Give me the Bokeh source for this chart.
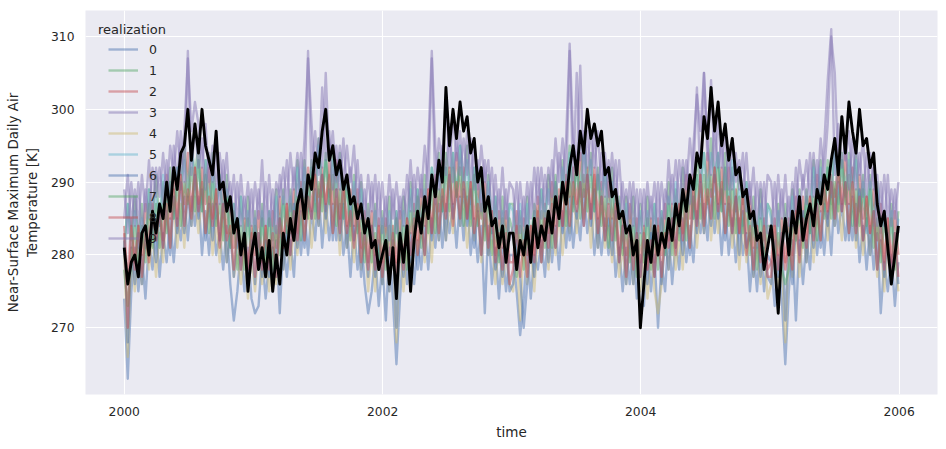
import pandas as pd
from bokeh.plotting import figure
from bokeh.models import Range1d, FixedTicker, DatetimeTickFormatter, Legend, LegendItem, Label
from bokeh.embed import file_html
from bokeh.resources import INLINE

# ---------------- data (10-day samples) ----------------
times = pd.date_range("2000-01-01", periods=220, freq="10D")

r9 = [289,283,290,284,290,283,289,285,292,288,292,287,293,287,295,290,297,290,308,291,298,292,296,289,294,290,295,287,293,288,290,284,290,284,288,284,289,
      283,289,284,290,284,289,283,291,287,293,286,292,288,294,288,308,291,297,291,303,293,297,289,295,289,296,289,292,287,293,285,289,284,290,284,290,283,
      288,282,289,283,288,284,291,286,291,286,291,286,295,308,295,289,295,291,298,290,296,291,296,291,296,289,293,286,293,287,292,285,289,284,289,282,
      284,290,283,288,283,290,285,292,285,291,287,293,287,294,290,296,309,296,292,306,290,297,291,297,289,294,288,293,288,293,285,290,283,290,284,289,283,
      289,284,288,283,290,283,289,287,291,286,293,288,293,287,295,302,297,305,295,291,298,292,296,289,294,289,294,289,294,286,290,284,290,285,290,283,
      283,290,284,289,284,288,284,292,285,291,287,294,288,293,288,295,304,311,291,298,292,296,289,296,289,294,288,294,289,292,284,290,284,291,284,289,283]
r1 = [281,287,282,288,282,287,281,289,285,291,284,290,286,292,286,292,289,295,289,295,291,295,287,293,287,294,287,290,285,291,283,287,282,288,282,288,281,
      286,280,287,281,286,282,289,284,289,284,289,284,293,287,293,287,293,289,296,288,294,289,294,289,294,287,291,284,291,285,290,283,287,282,287,280,286,
      282,288,281,286,281,288,283,290,283,289,285,291,285,292,288,294,288,294,290,294,288,295,289,295,287,292,286,291,286,291,283,288,281,288,282,287,
      287,282,286,281,288,281,287,285,289,284,291,286,291,285,293,288,295,288,293,289,296,290,294,287,292,287,292,287,292,284,288,282,288,283,288,281,287,
      281,288,282,287,282,286,282,290,283,289,285,292,286,291,286,293,290,294,289,296,290,294,287,294,287,292,286,292,287,290,282,288,282,289,282,287,
      286,280,287,281,287,282,289,284,289,283,289,285,293,287,293,287,293,287,296,290,294,289,294,289,294,286,291,285,291,285,290,283,286,282,287,280,286]
r2 = [284,276,285,279,284,280,287,282,287,282,287,282,291,285,291,285,291,287,294,286,292,287,292,287,292,285,289,282,289,283,288,281,285,280,285,278,284,
      280,286,279,284,279,286,281,288,281,287,283,289,283,290,286,292,286,292,288,292,286,293,287,293,285,290,284,289,284,289,281,286,279,286,280,285,279,
      285,280,284,279,286,279,285,283,287,282,289,284,289,283,291,286,293,286,291,287,294,288,292,285,290,285,290,285,290,282,286,280,286,281,286,279,
      279,286,280,285,280,284,280,288,281,287,283,290,284,289,284,291,288,292,287,294,288,292,285,292,285,290,284,290,285,288,280,286,280,287,280,285,279,
      284,278,285,279,285,280,287,282,287,281,287,283,291,285,291,285,291,285,294,288,292,287,292,287,292,284,289,283,289,283,288,281,284,280,285,278,
      279,285,280,285,279,285,280,288,282,288,282,288,284,291,286,291,285,291,288,293,287,294,287,292,284,291,285,288,283,289,282,287,279,285,279,286,280]
r3 = [285,291,284,289,284,291,286,293,286,292,288,294,288,295,291,297,291,297,307,297,301,298,292,298,290,295,289,294,289,294,286,291,284,291,285,290,284,
      290,285,293,284,291,284,290,288,292,287,294,289,294,288,296,307,298,291,296,292,305,293,297,290,295,290,295,290,295,287,291,285,291,286,291,284,290,
      284,291,285,290,285,289,285,293,286,292,288,295,289,307,289,296,293,302,292,299,293,297,290,297,290,295,289,295,290,293,285,291,285,292,285,290,
      289,283,290,284,290,285,292,287,292,286,292,288,296,290,296,290,308,290,305,293,297,292,297,292,297,289,294,288,294,288,293,286,289,285,290,283,289,
      284,290,285,290,284,290,285,293,287,293,287,293,289,296,291,303,290,305,293,304,292,299,292,297,289,296,290,293,288,294,287,292,284,290,284,291,
      290,284,291,285,291,284,290,286,293,289,293,288,294,288,296,291,298,310,305,292,299,293,297,290,295,291,296,288,294,289,291,285,291,285,289,285,290]
r6 = [282,268,281,276,283,276,282,280,284,279,286,281,286,280,288,283,290,283,288,284,291,285,289,282,287,282,287,282,287,279,283,277,283,278,283,276,282,
      276,283,277,282,277,281,277,285,278,284,280,287,281,286,281,288,285,289,284,291,285,289,282,289,282,287,281,287,282,285,277,283,277,284,277,282,276,
      281,275,282,270,282,277,284,279,284,278,284,280,288,282,288,282,288,282,291,285,289,284,289,284,289,281,286,280,286,280,285,278,281,277,282,275,
      276,282,277,270,276,282,277,285,279,285,279,285,281,288,283,288,282,288,285,290,284,291,284,289,281,288,282,285,280,286,279,284,276,282,276,283,277,
      282,276,283,277,283,276,282,278,285,281,285,280,286,280,288,283,290,283,288,284,291,285,289,282,287,283,288,280,286,281,283,277,283,277,281,277,
      276,282,277,283,271,282,276,284,280,286,279,285,281,287,281,287,284,290,284,290,286,290,282,288,282,289,282,285,280,286,278,282,277,283,277,283,276]
r5 = [280,287,281,286,281,285,281,289,282,288,284,291,285,290,285,292,289,293,288,295,289,293,286,293,286,291,285,291,286,289,281,287,281,288,281,286,280,
      285,279,286,280,286,281,288,283,288,282,288,284,292,286,292,286,292,286,295,289,293,288,293,288,293,285,290,284,290,284,289,282,285,281,286,279,285,
      280,286,281,286,280,286,281,289,283,289,283,289,285,292,287,292,286,292,289,294,288,295,288,293,285,292,286,289,284,290,283,288,280,286,280,287,
      286,280,287,281,287,280,286,282,289,285,289,284,290,284,292,287,294,287,292,288,295,289,293,286,291,287,292,284,290,285,287,281,287,281,285,281,286,
      280,286,281,287,281,286,280,288,284,290,283,289,285,291,285,291,288,294,288,294,290,294,286,292,286,293,286,289,284,290,282,286,281,287,281,287,
      285,279,286,280,285,281,288,283,288,283,288,283,292,286,292,286,292,288,295,287,293,288,293,288,293,286,290,283,290,284,289,282,286,281,286,279,285]
r4 = [280,266,281,275,281,276,283,278,283,277,283,279,287,281,287,281,287,281,290,284,288,283,288,283,288,280,285,279,285,279,284,277,280,276,281,274,280,
      275,281,276,281,275,281,276,284,278,284,278,284,280,287,282,287,281,287,284,289,283,290,283,288,280,287,281,284,279,285,278,283,275,281,275,282,276,
      281,275,282,268,282,275,281,277,284,280,284,279,285,279,287,282,289,282,287,283,290,284,288,281,286,282,287,279,285,280,282,276,282,276,280,276,
      275,281,271,282,276,281,275,283,279,285,278,284,280,286,280,286,283,289,283,289,285,289,281,287,281,288,281,284,279,285,277,281,276,282,276,282,275,
      280,274,281,275,272,276,283,278,283,278,283,278,287,281,287,281,287,283,290,282,288,283,288,283,288,281,285,278,285,279,284,277,281,276,281,274,
      276,282,275,280,268,282,277,284,277,283,279,285,279,286,282,288,282,288,284,288,282,289,283,289,281,286,280,285,280,285,277,282,275,282,276,281,275]
r7 = [278,273,279,284,278,284,279,287,281,287,281,287,283,290,285,290,284,290,287,292,286,293,286,291,283,290,284,287,282,288,281,286,278,284,278,285,279,
      284,278,285,279,285,278,284,280,287,283,287,282,288,282,290,285,292,285,290,286,293,287,291,284,289,285,290,282,288,283,285,279,285,279,283,279,284,
      278,284,279,285,279,284,278,286,282,288,281,287,283,289,283,289,286,292,286,292,288,292,284,290,284,291,284,287,282,288,280,284,279,285,279,285,
      283,277,284,278,283,279,286,281,286,281,286,281,290,284,290,284,290,286,293,285,291,286,291,286,291,284,288,281,288,282,287,280,284,279,284,277,283,
      279,285,278,283,278,285,280,287,280,286,282,288,282,289,285,291,285,291,287,291,285,292,286,292,284,289,283,288,283,288,280,285,278,285,279,284,
      284,279,283,278,276,278,284,282,286,281,288,283,288,282,290,285,292,285,290,286,293,287,291,284,289,284,289,284,289,281,285,279,285,280,285,278,284]
r8 = [283,270,284,278,284,277,283,279,286,282,286,281,287,281,289,284,291,284,289,285,292,286,290,283,288,284,289,281,287,282,284,278,284,278,282,278,283,
      277,283,278,284,278,283,277,285,281,287,280,286,282,288,282,288,285,291,285,291,287,291,283,289,283,290,283,286,281,287,279,283,278,284,278,284,277,
      282,276,283,277,282,278,285,280,285,280,285,280,289,283,289,283,289,285,292,284,290,285,290,285,290,283,287,280,287,281,286,279,283,278,283,276,
      278,284,277,282,277,284,279,286,279,285,281,287,281,288,284,290,284,290,286,290,284,291,285,291,283,288,282,287,282,287,279,284,277,284,278,283,277,
      283,278,282,277,284,277,283,281,285,280,287,282,287,281,289,284,291,284,289,285,292,286,290,283,288,283,288,283,288,280,284,278,284,279,284,277,
      277,284,278,283,278,282,278,286,279,285,281,288,282,287,282,289,286,290,285,292,286,290,283,290,283,288,282,288,283,286,278,284,278,285,278,283,277]
r0 = [274,263,275,281,275,280,274,282,278,284,277,283,279,285,279,285,282,288,282,288,284,288,280,286,280,287,280,283,278,284,276,271,275,281,275,281,274,
      272,273,280,274,279,275,282,272,282,277,282,277,286,280,286,280,286,282,289,281,287,282,287,282,287,280,284,277,284,278,283,276,272,275,280,273,279,
      271,281,274,265,274,281,276,283,276,282,278,284,278,285,281,287,281,287,283,287,281,288,282,288,280,285,279,284,272,284,276,281,274,281,275,280,
      280,275,269,274,281,274,280,278,282,277,284,279,284,278,286,281,288,281,286,282,289,283,287,280,285,280,285,280,285,277,281,275,281,276,281,274,280,
      273,281,275,280,270,279,275,283,276,282,278,285,279,284,279,286,283,287,282,289,283,287,280,287,280,285,279,285,280,283,275,281,275,282,275,280,
      279,273,280,274,265,275,282,271,282,276,282,278,286,280,286,280,286,280,289,283,287,282,287,282,287,279,284,278,284,278,283,272,279,275,280,273,279]

observed = [281,276,279,280,277,283,284,280,286,283,287,285,290,286,292,289,294,295,300,293,298,294,300,295,293,291,297,289,290,286,288,283,285,280,283,275,280,
            283,278,281,277,282,275,280,276,283,280,285,282,287,289,285,291,289,294,292,297,300,293,295,291,293,289,291,287,288,285,287,283,285,281,282,278,280,
            282,276,281,274,283,279,284,275,282,286,283,288,285,291,288,293,290,303,295,300,296,301,297,299,294,296,290,292,286,288,284,285,281,284,279,283,
            283,278,282,280,284,279,285,281,284,282,286,283,288,285,290,287,292,295,291,297,294,300,296,298,295,297,291,292,288,289,285,286,283,284,280,282,270,
            276,282,279,284,280,283,281,285,282,287,284,289,286,291,289,294,292,299,296,303,297,301,295,298,293,296,291,292,288,289,285,286,282,283,278,281,
            284,279,272,281,285,280,286,283,288,282,285,287,284,289,287,291,289,293,296,291,299,294,301,297,294,300,295,296,292,294,287,284,286,281,276,280,284]

realizations = [r0, r1, r2, r3, r4, r5, r6, r7, r8, r9]
realization_labels = ["0", "1", "2", "3", "4", "5", "6", "7", "8", "9"]
palette = ["#4C72B0", "#55A868", "#C44E52", "#8172B2", "#CCB974", "#64B5CD"]
x_tick_years = ["2000-01-01", "2002-01-01", "2004-01-01", "2006-01-01"]
y_ticks = [270, 280, 290, 300, 310]

# ---------------- figure ----------------
TXT = "#262626"
FONT = "DejaVu Sans"
x_start = pd.Timestamp("2000-01-01") - pd.Timedelta(days=109.55)
x_end = pd.Timestamp("2005-12-31") + pd.Timedelta(days=109.55)

p = figure(width=946, height=449, output_backend="svg", toolbar_location=None,
           x_axis_type="datetime",
           x_range=Range1d(x_start, x_end), y_range=Range1d(260.84, 313.57),
           min_border_left=85, min_border_right=9, min_border_top=10, min_border_bottom=55)
p.background_fill_color = "#EAEAF2"
p.border_fill_color = "white"
p.outline_line_color = None

renderers = []
for k, vals in enumerate(realizations):
    r = p.line(times, vals, line_color=palette[k % 6], line_alpha=0.48, line_width=2.4,
               line_join="round")
    renderers.append(r)
p.line(times, observed, line_color="black", line_width=2.9, line_join="round")

tick_ms = [pd.Timestamp(s).value // 10**6 for s in x_tick_years]
p.xaxis.ticker = FixedTicker(ticks=tick_ms)
p.xaxis.formatter = DatetimeTickFormatter(years="%Y", months="%Y", days="%Y", hours="%Y",
                                          minutes="%Y", seconds="%Y", milliseconds="%Y",
                                          microseconds="%Y", hourmin="%Y", minsec="%Y")
p.yaxis.ticker = FixedTicker(ticks=y_ticks)

for ax in (p.xaxis[0], p.yaxis[0]):
    ax.axis_line_color = None
    ax.major_tick_line_color = None
    ax.minor_tick_line_color = None
    ax.major_tick_out = 0
    ax.major_tick_in = 0
    ax.major_label_text_font = FONT
    ax.major_label_text_font_size = "12.3px"
    ax.major_label_text_color = TXT
    ax.axis_label_text_font = FONT
    ax.axis_label_text_font_size = "13.5px"
    ax.axis_label_text_font_style = "normal"
    ax.axis_label_text_color = TXT

p.xaxis.axis_label = "time"
p.xaxis.major_label_standoff = 12
p.xaxis.axis_label_standoff = 5
p.yaxis.axis_label = "Near-Surface Maximum Daily Air\nTemperature [K]"
p.yaxis.major_label_standoff = 11
p.yaxis.axis_label_standoff = 8

p.xgrid.grid_line_color = "white"
p.ygrid.grid_line_color = "white"
p.xgrid.grid_line_width = 1.1
p.ygrid.grid_line_width = 1.1

items = [LegendItem(label=realization_labels[k], renderers=[renderers[k]]) for k in range(10)]
legend = Legend(items=items, location=(23, 147), padding=0, margin=0, spacing=3,
                glyph_width=30, glyph_height=18, label_height=18, label_standoff=11,
                background_fill_alpha=0, border_line_alpha=0,
                label_text_font=FONT, label_text_font_size="12.5px", label_text_color=TXT)
p.add_layout(legend)

title = Label(x=12.5, y=365, x_units="screen", y_units="screen", text="realization",
              text_font=FONT, text_font_size="13px", text_color=TXT,
              text_align="left", text_baseline="middle")
p.add_layout(title)

open("out.html", "w").write(file_html(p, INLINE))
